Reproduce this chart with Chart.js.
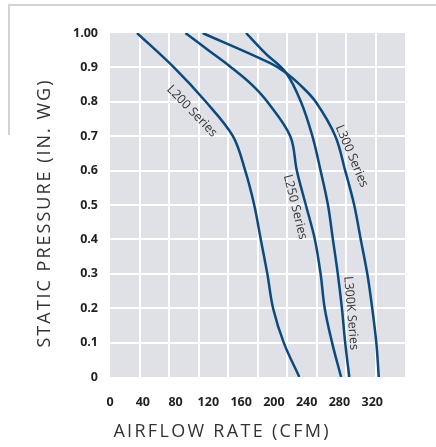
<!DOCTYPE html>
<html>
<head>
<meta charset="utf-8">
<script src="https://cdn.jsdelivr.net/npm/chart.js@4"></script>
<style>
  body { margin: 0; background: #fff; }
  #wrap { position: relative; width: 436px; height: 447px; }
  #frameTop { position: absolute; left: 9px; top: 4px; width: 427px; height: 2px; background: #d3d3d3; }
  #frameLeft { position: absolute; left: 8px; top: 4px; width: 2px; height: 131px; background: #d3d3d3; }
  #chart { position: absolute; left: 0; top: 0; }
</style>
</head>
<body>
<div id="wrap">
  <div id="frameTop"></div>
  <div id="frameLeft"></div>
  <canvas id="chart" width="436" height="447"></canvas>
</div>
<script>
// axis titles and tick labels
var xTitle = 'AIRFLOW RATE (CFM)';
var yTitle = 'STATIC PRESSURE (IN. WG)';
var xTicks = [0, 40, 80, 120, 160, 200, 240, 280, 320];
var yTicks = [0, 0.1, 0.2, 0.3, 0.4, 0.5, 0.6, 0.7, 0.8, 0.9, 1.0];
var yTickLabels = ['0', '0.1', '0.2', '0.3', '0.4', '0.5', '0.6', '0.7', '0.8', '0.9', '1.00'];

// fan curves (airflow in CFM, static pressure in in. WG)
var l200Cfm = [33, 78, 117, 150, 165, 176, 184, 192, 199, 212, 231];
var l200Pressure = [1.0, 0.9, 0.8, 0.7, 0.6, 0.5, 0.4, 0.3, 0.2, 0.1, 0];

var l250Cfm = [92, 120, 148, 173, 192, 220, 228, 239, 250, 257, 262, 271, 282];
var l250Pressure = [1.0, 0.95, 0.9, 0.85, 0.8, 0.7, 0.6, 0.5, 0.4, 0.3, 0.2, 0.1, 0];

var l300kCfm = [166, 190, 215, 233, 247, 257, 266, 272, 278, 283, 287, 292];
var l300kPressure = [1.0, 0.94, 0.884, 0.8, 0.7, 0.6, 0.5, 0.4, 0.3, 0.2, 0.1, 0];

var l300Cfm = [113, 195, 215, 232, 251, 275, 287, 298, 306, 314, 320, 325, 328];
var l300Pressure = [1.0, 0.913, 0.884, 0.849, 0.8, 0.7, 0.6, 0.5, 0.4, 0.3, 0.2, 0.1, 0];

// curve names written along the lines
var seriesNames = ['L200 Series', 'L250 Series', 'L300 Series', 'L300K Series'];
var nameCfm = [100, 226, 295, 294];
var namePressure = [0.773, 0.494, 0.642, 0.186];
var nameAngle = [46, 76, 67, 85];

var lineColor = '#0b4a7e';
var fontFamily = '"Open Sans", sans-serif';

function points(xs, ys) {
    return xs.map(function (x, i) { return {x: x, y: ys[i]}; });
}

function curve(label, xs, ys) {
    return {
        label: label,
        data: points(xs, ys),
        borderColor: lineColor,
        borderWidth: 2.5,
        pointRadius: 0,
        fill: false,
        tension: 0.35
    };
}

// draws text centred on (0,0) with extra space between letters
function spacedText(ctx, text, spacing) {
    var total = 0, widths = [];
    for (var i = 0; i < text.length; i++) {
        widths.push(ctx.measureText(text[i]).width);
        total += widths[i] + (i < text.length - 1 ? spacing : 0);
    }
    var x = -total / 2;
    for (var j = 0; j < text.length; j++) {
        ctx.fillText(text[j], x, 0);
        x += widths[j] + spacing;
    }
}

// grey plot background
var plotBg = {
    id: 'plotBg',
    beforeDraw: function (chart) {
        var a = chart.chartArea, ctx = chart.ctx;
        ctx.save();
        ctx.fillStyle = '#dfe1e6';
        ctx.fillRect(a.left, a.top, a.right - a.left, a.bottom - a.top);
        ctx.restore();
    }
};

// series names drawn along curves
var curveNames = {
    id: 'curveNames',
    afterDatasetsDraw: function (chart) {
        var ctx = chart.ctx, xs = chart.scales.x, ys = chart.scales.y;
        ctx.save();
        ctx.font = '12.5px ' + fontFamily;
        ctx.fillStyle = '#333';
        ctx.textAlign = 'center';
        ctx.textBaseline = 'middle';
        seriesNames.forEach(function (name, i) {
            ctx.save();
            ctx.translate(xs.getPixelForValue(nameCfm[i]), ys.getPixelForValue(namePressure[i]));
            ctx.rotate(nameAngle[i] * Math.PI / 180);
            ctx.fillText(name, 0, 0);
            ctx.restore();
        });
        ctx.restore();
    }
};

// spaced-out axis titles
var axisTitles = {
    id: 'axisTitles',
    afterDraw: function (chart) {
        var ctx = chart.ctx;
        ctx.save();
        ctx.font = '18px ' + fontFamily;
        ctx.fillStyle = '#333';
        ctx.textAlign = 'left';
        ctx.textBaseline = 'middle';
        ctx.translate(221, 432);
        spacedText(ctx, xTitle, 2.3);
        ctx.restore();

        ctx.save();
        ctx.font = '18px ' + fontFamily;
        ctx.fillStyle = '#333';
        ctx.textAlign = 'left';
        ctx.textBaseline = 'middle';
        ctx.translate(45, 214);
        ctx.rotate(-Math.PI / 2);
        spacedText(ctx, yTitle, 2);
        ctx.restore();
    }
};

var tickFont = {family: fontFamily, size: 12.5, weight: 'bold'};

new Chart(document.getElementById('chart').getContext('2d'), {
    type: 'line',
    data: {
        datasets: [
            curve('L200 Series', l200Cfm, l200Pressure),
            curve('L250 Series', l250Cfm, l250Pressure),
            curve('L300K Series', l300kCfm, l300kPressure),
            curve('L300 Series', l300Cfm, l300Pressure)
        ]
    },
    options: {
        responsive: false,
        animation: false,
        devicePixelRatio: 1,
        layout: {padding: {top: 33, right: 31, bottom: 0, left: 0}},
        plugins: {legend: {display: false}, tooltip: {enabled: false}},
        scales: {
            x: {
                type: 'linear',
                min: 0,
                max: 360,
                afterBuildTicks: function (scale) {
                    scale.ticks = xTicks.map(function (v) { return {value: v}; });
                },
                afterFit: function (scale) { scale.height = 70; },
                grid: {display: false},
                border: {display: false},
                ticks: {color: '#231f20', font: tickFont, padding: 10, maxRotation: 0}
            },
            xGrid: {
                type: 'linear',
                position: 'top',
                min: 0,
                max: 10,
                afterBuildTicks: function (scale) {
                    scale.ticks = [1, 2, 3, 4, 5, 6, 7, 8, 9].map(function (v) { return {value: v}; });
                },
                afterFit: function (scale) { scale.height = 0; },
                grid: {color: '#ffffff', lineWidth: 2, drawTicks: false},
                border: {display: false},
                ticks: {display: false}
            },
            y: {
                type: 'linear',
                min: 0,
                max: 1,
                afterBuildTicks: function (scale) {
                    scale.ticks = yTicks.map(function (v) { return {value: v}; });
                },
                afterFit: function (scale) { scale.width = 110; },
                grid: {
                    color: function (c) {
                        return (c.index === 0 || c.index === yTicks.length - 1) ? 'rgba(0,0,0,0)' : '#ffffff';
                    },
                    lineWidth: 2,
                    drawTicks: false
                },
                border: {display: false},
                ticks: {
                    color: '#231f20',
                    font: tickFont,
                    padding: 12,
                    callback: function (v, i) { return yTickLabels[i]; }
                }
            }
        }
    },
    plugins: [plotBg, curveNames, axisTitles]
});
</script>
</body>
</html>
